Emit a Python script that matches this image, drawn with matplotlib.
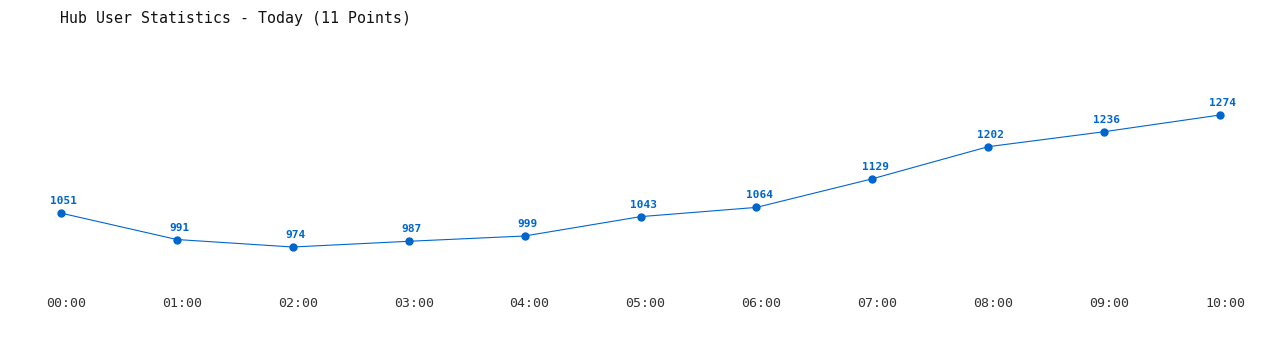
import matplotlib
matplotlib.use("Agg")
import matplotlib.pyplot as plt
from matplotlib.transforms import ScaledTranslation

hours = ["00:00", "01:00", "02:00", "03:00", "04:00", "05:00",
         "06:00", "07:00", "08:00", "09:00", "10:00"]
users = [1051, 991, 974, 987, 999, 1043, 1064, 1129, 1202, 1236, 1274]

blue = "#0066CC"
mono = ["DejaVu Sans Mono"]

fig = plt.figure(figsize=(12.8, 3.5), dpi=100)
ax = fig.add_axes([0, 60 / 350, 1, 290 / 350])

x = list(range(len(users)))
ax.plot(x, users, color=blue, lw=0.8, marker="o", ms=5, zorder=3)
for xi, v in zip(x, users):
    ax.annotate(str(v), (xi, v), xytext=(2, 5), textcoords="offset points",
                ha="center", va="bottom", color=blue, fontsize=8,
                fontweight="bold", family=mono)

# pixel mapping: x=0 -> 61px, x=10 -> 1220px ; 974 -> 247px, 0.44 px/unit
step = (1220 - 61) / 10
ax.set_xlim(-61 / step, 10 + (1280 - 1220) / step)
ax.set_ylim(974 - (290 - 247) / 0.44, 974 + 247 / 0.44)

ax.set_xticks(x)
ax.set_xticklabels(hours, family=mono, fontsize=9.5, color="#333333")
ax.tick_params(axis="x", length=0, pad=5)
shift = ScaledTranslation(5 / 100, 0, fig.dpi_scale_trans)
for lab in ax.get_xticklabels():
    lab.set_transform(lab.get_transform() + shift)
ax.set_yticks([])
for s in ax.spines.values():
    s.set_visible(False)

fig.text(60 / 1280, 1 - 18 / 350, "Hub User Statistics - Today (11 Points)",
         family=mono, fontsize=10.7, color="#111111", va="center", ha="left")

fig.savefig("out.png", dpi=100, facecolor="white")
